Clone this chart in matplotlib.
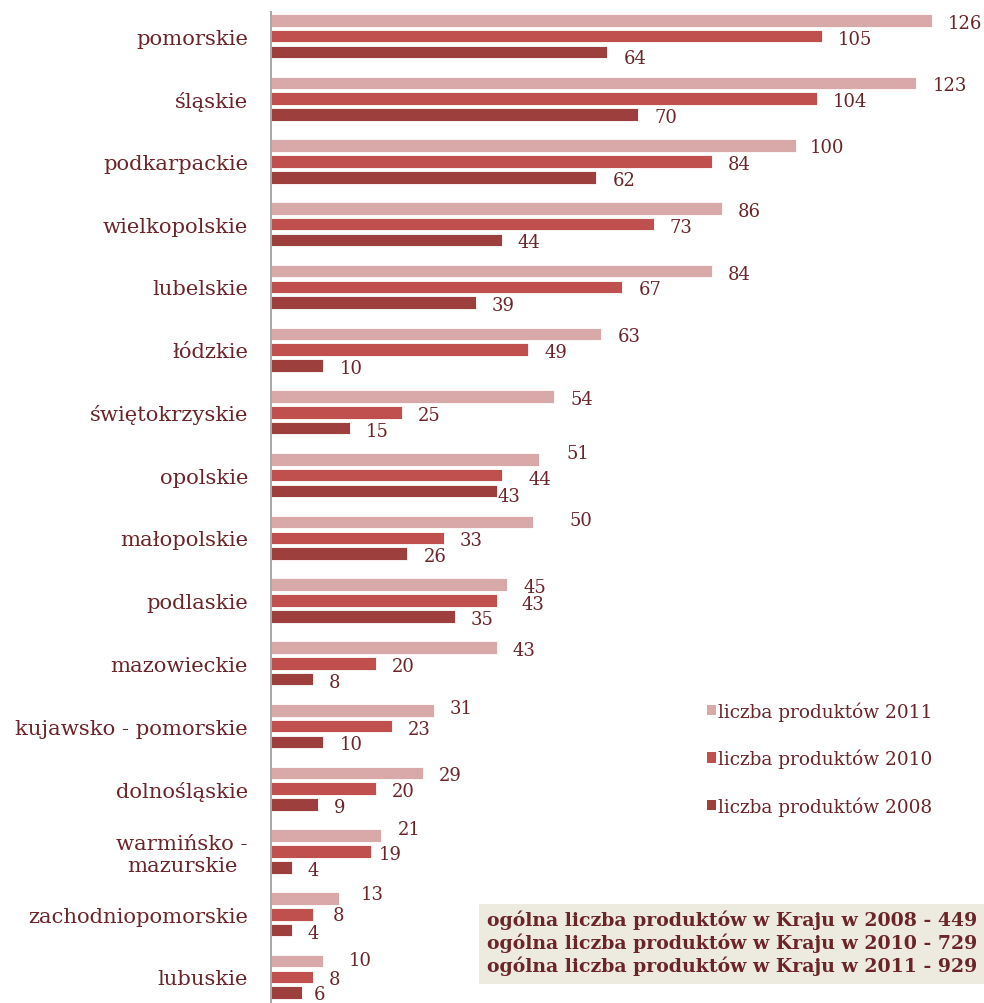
import matplotlib
matplotlib.use("Agg")
import matplotlib.pyplot as plt
from matplotlib.patches import Patch, Rectangle

# ---------------- data ----------------
regions = ["pomorskie", "śląskie", "podkarpackie", "wielkopolskie", "lubelskie",
           "łódzkie", "świętokrzyskie", "opolskie", "małopolskie", "podlaskie",
           "mazowieckie", "kujawsko - pomorskie", "dolnośląskie",
           "warmińsko -\nmazurskie", "zachodniopomorskie", "lubuskie"]
prod_2011 = [126, 123, 100, 86, 84, 63, 54, 51, 50, 45, 43, 31, 29, 21, 13, 10]
prod_2010 = [105, 104, 84, 73, 67, 49, 25, 44, 33, 43, 20, 23, 20, 19, 8, 8]
prod_2008 = [64, 70, 62, 44, 39, 10, 15, 43, 26, 35, 8, 10, 9, 4, 4, 6]
series_labels = ["liczba produktów 2011", "liczba produktów 2010", "liczba produktów 2008"]
totals_text = ["ogólna liczba produktów w Kraju w 2008 - 449",
               "ogólna liczba produktów w Kraju w 2010 - 729",
               "ogólna liczba produktów w Kraju w 2011 - 929"]

# ---------------- style ----------------
W, H = 984, 1004
DPI = 100
PX = 72.0 / DPI  # points per pixel
FONT = "DejaVu Serif"
TXT = "#6b2428"
COLORS = ["#d9a8a8", "#c0504d", "#9c3f3d"]

fig = plt.figure(figsize=(W / DPI, H / DPI), dpi=DPI)
ax = fig.add_axes([271 / W, 0, 1 - 271 / W, 1])

group_px = 62.73
unit_px = 5.246
ax.set_ylim((H - 37) / group_px, -37 / group_px)
ax.set_xlim(0, (W - 271) / unit_px)

offsets = [-15.8 / group_px, 0.0, 15.8 / group_px]
bar_h = 12.6 / group_px
all_series = [prod_2011, prod_2010, prod_2008]
ypos = list(range(len(regions)))

# label nudges (gap in px from bar end, vertical shift in px; + = down)
nudge = {
    (7, 0): (28, -6), (7, 1): (27, 4), (7, 2): (0.5, 5),
    (8, 0): (36, -2),
    (9, 1): (24.5, 3.5),
    (11, 0): (16.4, -2),
    (13, 0): (17, -7), (13, 1): (8, 2.5),
    (14, 0): (22, -4), (14, 1): (19.7, 1),
    (15, 0): (25, -1), (15, 2): (11.5, 1.5),
    (2, 0): (14, 1),
    (0, 2): (17, 6),
}

for s, (vals, col, lab) in enumerate(zip(all_series, COLORS, series_labels)):
    ys = [y + offsets[s] for y in ypos]
    ax.barh(ys, vals, height=bar_h, color=col, edgecolor="white",
            linewidth=0.6, label=lab)
    for i, (y, v) in enumerate(zip(ys, vals)):
        gap, dy = nudge.get((i, s), (16, 2.5))
        ax.annotate(str(v), xy=(v, y), xytext=(gap * PX, -dy * PX),
                    textcoords="offset points", ha="left", va="center",
                    fontsize=13, color=TXT, family=FONT)

ax.set_yticks(ypos)
ax.set_yticklabels(regions, fontsize=15.2, color=TXT, family=FONT)
for t in ax.get_yticklabels():
    t.set_multialignment("center")
ax.tick_params(axis="y", length=0, pad=23 * PX)
ax.set_xticks([])
for side in ["top", "right", "bottom"]:
    ax.spines[side].set_visible(False)
ax.spines["left"].set_color("#a6a6a6")
ax.spines["left"].set_linewidth(2 * PX)
ax.spines["left"].set_bounds((H - 37) / group_px, (13 - 37) / group_px)

# legend
handles = [Patch(facecolor=c, edgecolor="none") for c in COLORS]
leg = fig.legend(handles, series_labels, loc="upper left",
                 bbox_to_anchor=(707 / W, 1 - 702 / H), frameon=False,
                 borderpad=0, borderaxespad=0, handlelength=0.5,
                 handleheight=0.5, handletextpad=0.12, labelspacing=1.52,
                 prop={"family": FONT, "size": 13.3})
for t in leg.get_texts():
    t.set_color(TXT)

# totals box
fig.add_artist(Rectangle((479 / W, 1 - 985 / H), (W - 479) / W + 0.05, 80 / H,
                         transform=fig.transFigure, facecolor="#edeae0",
                         edgecolor="none", zorder=3))
for k, line in enumerate(totals_text):
    fig.text(487 / W, 1 - (920 + 23 * k) / H, line, ha="left", va="center",
             fontsize=13.6, fontweight="bold", color=TXT, family=FONT, zorder=4)

fig.savefig("out.png", dpi=DPI)
